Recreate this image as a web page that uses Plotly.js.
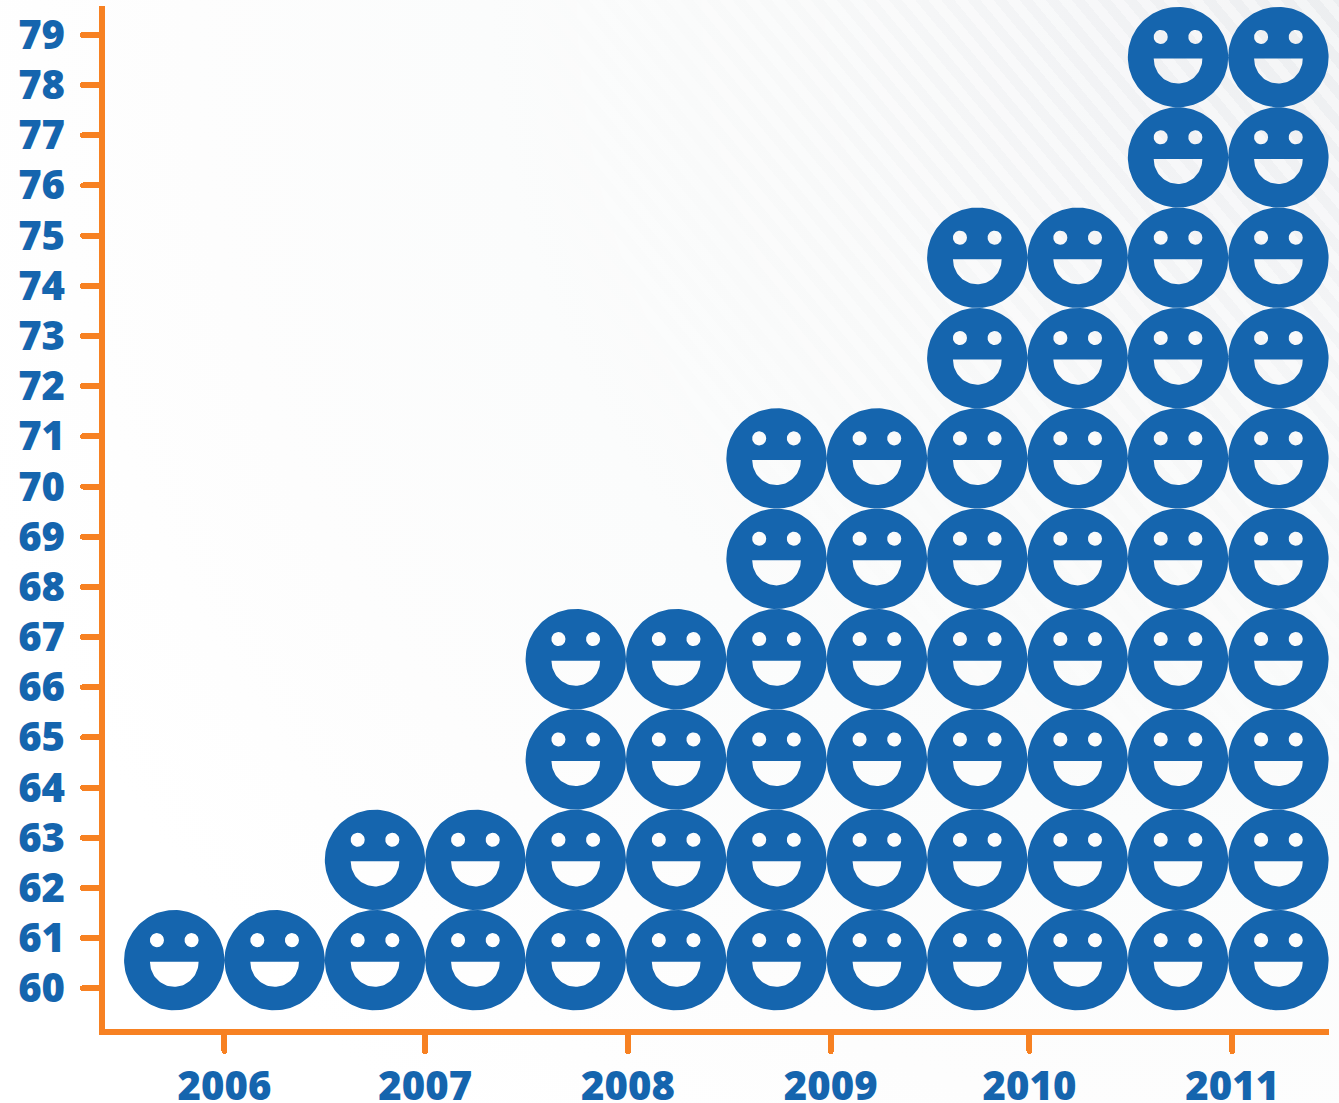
<!DOCTYPE html>
<html>
<head>
<meta charset="utf-8">
<script src="https://cdn.plot.ly/plotly-3.0.1.min.js"></script>
<style>
  html, body { margin: 0; padding: 0; width: 1339px; height: 1103px; overflow: hidden; }
  body {
    position: relative;
    background: radial-gradient(circle at 100% 0%, #eceef0 0, #f2f3f5 260px, #f8f9f9 560px, #fbfcfc 850px, #fdfdfd 1150px, #ffffff 1450px);
  }
  /* faint diagonal banding that fades away from the top right corner */
  body::before {
    content: '';
    position: absolute;
    inset: 0;
    background: repeating-linear-gradient(50deg, rgba(255,255,255,0.42) 0 10px, rgba(255,255,255,0) 10px 20px);
    -webkit-mask-image: radial-gradient(circle at 100% 0%, #000 0, #000 450px, transparent 1050px);
    mask-image: radial-gradient(circle at 100% 0%, #000 0, #000 450px, transparent 1050px);
  }
  #chart { position: relative; width: 1339px; height: 1103px; }
  /* rounded ends on the tick marks */
  #chart path.ticks { stroke-linecap: round !important; }
</style>
</head>
<body>
<div id="chart"></div>
<script>
// Years on the horizontal axis and where each one is ticked
const yearLabels = ['2006', '2007', '2008', '2009', '2010', '2011'];
const yearTicks = [2006, 2007, 2008.01, 2009.02, 2010.01, 2011.02];

// Half-year columns of smileys and how many are stacked in each
const columnCentres = [2005.75, 2006.25, 2006.75, 2007.25, 2007.75, 2008.25,
                       2008.75, 2009.25, 2009.75, 2010.25, 2010.75, 2011.25];
const smileyCounts = [1, 1, 2, 2, 4, 4, 6, 6, 8, 8, 10, 10];

// Vertical axis ticks, 60 to 79
const valueTicks = [60, 61, 62, 63, 64, 65, 66, 67, 68, 69, 70, 71, 72, 73, 74, 75, 76, 77, 78, 79];

const firstRowCentre = 60.56;
const rowStep = 2;
const BLUE = '#1565ae';
const ORANGE = '#f78122';

// Face radius in axis units: half a column wide, one value unit high
const radiusX = 0.25;
const radiusY = 1;

// Appends one closed ring to the path; direction sets whether it fills or cuts a hole
function addRing(xs, ys, cx, cy, points) {
  points.forEach(p => { xs.push(cx + p[0] * radiusX); ys.push(cy + p[1] * radiusY); });
  xs.push(null); ys.push(null);
}

function ellipseRing(ox, oy, r, steps, clockwise) {
  const pts = [];
  for (let i = 0; i <= steps; i++) {
    const a = (clockwise ? -1 : 1) * 2 * Math.PI * i / steps;
    pts.push([ox + r * Math.cos(a), oy + r * Math.sin(a)]);
  }
  return pts;
}

// Open-mouth outline: flat along the top, half ellipse beneath
function mouthRing(steps) {
  const pts = [[-0.485, -0.03], [0.485, -0.03]];
  for (let i = 0; i <= steps; i++) {
    const a = Math.PI * i / steps;
    pts.push([0.485 * Math.cos(a), -0.03 - 0.5 * Math.sin(a)]);
  }
  // written so that it winds against the face outline
  return pts.reverse();
}

const faceX = [], faceY = [];
const faceOutline = ellipseRing(0, 0, 1, 120, true);
const eyeLeft = ellipseRing(-0.345, 0.40, 0.14, 32, false);
const eyeRight = ellipseRing(0.345, 0.40, 0.14, 32, false);
const mouth = mouthRing(48);

columnCentres.forEach((cx, col) => {
  for (let row = 0; row < smileyCounts[col]; row++) {
    const cy = firstRowCentre + row * rowStep;
    addRing(faceX, faceY, cx, cy, faceOutline);
    addRing(faceX, faceY, cx, cy, eyeLeft);
    addRing(faceX, faceY, cx, cy, eyeRight);
    addRing(faceX, faceY, cx, cy, mouth);
  }
});

const smileys = {
  type: 'scatter',
  mode: 'lines',
  x: faceX,
  y: faceY,
  fill: 'toself',
  fillcolor: BLUE,
  line: { width: 0, color: BLUE },
  hoverinfo: 'skip',
  showlegend: false
};

const tickFont = { family: '"Open Sans", sans-serif', size: 40, color: BLUE, weight: 800 };

const layout = {
  width: 1339,
  height: 1103,
  margin: { l: 105, r: 9.7, t: 6, b: 74.3, pad: 0 },
  paper_bgcolor: 'rgba(0,0,0,0)',
  plot_bgcolor: 'rgba(0,0,0,0)',
  showlegend: false,
  xaxis: {
    range: [2005.405, 2011.502],
    tickmode: 'array',
    tickvals: yearTicks,
    ticktext: yearLabels,
    ticks: 'outside',
    ticklen: 16,
    tickwidth: 6,
    tickcolor: ORANGE,
    showline: true,
    linewidth: 6,
    linecolor: ORANGE,
    showgrid: false,
    zeroline: false,
    tickfont: tickFont,
    ticklabelstandoff: 1,
    fixedrange: true
  },
  yaxis: {
    range: [59.189, 79.577],
    tickmode: 'array',
    tickvals: valueTicks,
    ticktext: valueTicks.map(String),
    ticks: 'outside',
    ticklen: 16,
    tickwidth: 6,
    tickcolor: ORANGE,
    showline: true,
    linewidth: 6,
    linecolor: ORANGE,
    showgrid: false,
    zeroline: false,
    tickfont: tickFont,
    ticklabelstandoff: 10,
    fixedrange: true
  }
};

Plotly.newPlot('chart', [smileys], layout, { displayModeBar: false, staticPlot: true });
</script>
</body>
</html>
